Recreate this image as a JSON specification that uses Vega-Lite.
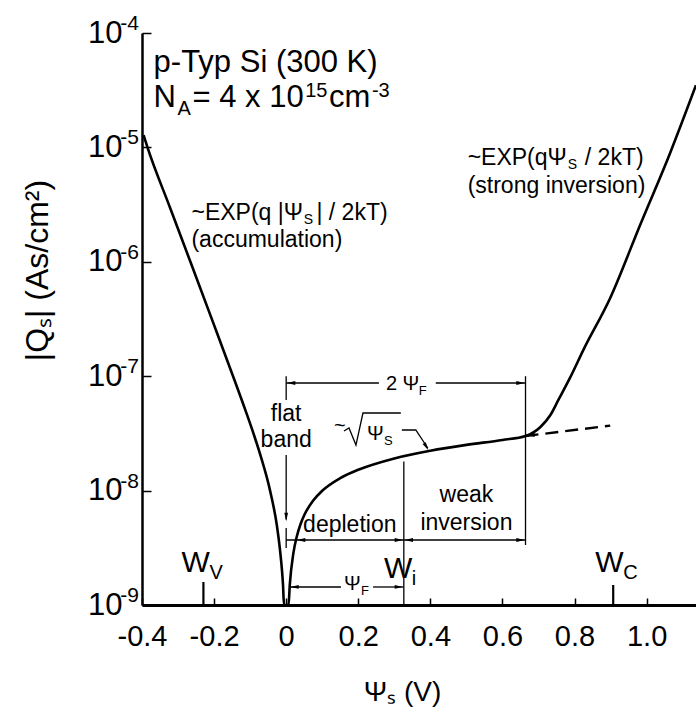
{
  "$schema": "https://vega.github.io/schema/vega-lite/v6.json",
  "width": 554,
  "height": 572,
  "autosize": {"type": "none"},
  "padding": {"left": 142, "top": 33, "right": 0, "bottom": 106},
  "background": "white",
  "config": {"view": {"stroke": null}, "font": "Liberation Sans", "axis": {"grid": false}},
  "datasets": {
    "curve": [
      {"x": -0.3956, "y": 1.28e-5}, {"x": -0.3848, "y": 1.0e-5}, {"x": -0.3227, "y": 3.0e-6},
      {"x": -0.2657, "y": 1.0e-6}, {"x": -0.2036, "y": 3.0e-7}, {"x": -0.1474, "y": 1.0e-7},
      {"x": -0.1127, "y": 5.0e-8}, {"x": -0.0884, "y": 3.0e-8}, {"x": -0.0707, "y": 2.0e-8},
      {"x": -0.0447, "y": 1.0e-8}, {"x": -0.026, "y": 5.0e-9}, {"x": -0.017, "y": 3.0e-9},
      {"x": -0.0116, "y": 2.0e-9}, {"x": -0.0088, "y": 1.5e-9}, {"x": -0.006, "y": 1.0e-9},
      {"x": 0.0065, "y": 1.0e-9}, {"x": 0.01, "y": 1.5e-9}, {"x": 0.02, "y": 2.84e-9},
      {"x": 0.03, "y": 4.03e-9}, {"x": 0.04, "y": 5.11e-9}, {"x": 0.05, "y": 6.09e-9},
      {"x": 0.075, "y": 8.2e-9}, {"x": 0.1, "y": 9.96e-9}, {"x": 0.15, "y": 1.285e-8},
      {"x": 0.2, "y": 1.52e-8}, {"x": 0.3, "y": 1.91e-8}, {"x": 0.4, "y": 2.23e-8},
      {"x": 0.5, "y": 2.51e-8}, {"x": 0.6, "y": 2.77e-8}, {"x": 0.664, "y": 3.0e-8},
      {"x": 0.7054, "y": 3.6e-8}, {"x": 0.7331, "y": 4.58e-8}, {"x": 0.7552, "y": 6.2e-8},
      {"x": 0.7884, "y": 9.8e-8}, {"x": 0.8243, "y": 1.69e-7}, {"x": 0.899, "y": 4.83e-7},
      {"x": 0.982, "y": 2.1e-6}, {"x": 1.065, "y": 8.9e-6}, {"x": 1.137, "y": 3.5e-5}
    ],
    "dashed": [
      {"x": 0.664, "y": 3.0e-8}, {"x": 0.899, "y": 3.7e-8}
    ],
    "exps": [
      {"y": 1e-9, "t": "-9"}, {"y": 1e-8, "t": "-8"}, {"y": 1e-7, "t": "-7"},
      {"y": 1e-6, "t": "-6"}, {"y": 1e-5, "t": "-5"}, {"y": 1e-4, "t": "-4"}
    ],
    "segs": [
      {"s": "a", "k": "thin", "o": 1, "x": 0, "y": 1.0e-7}, {"s": "a", "k": "thin", "o": 2, "x": 0, "y": 6.19e-8},
      {"s": "b", "k": "thin", "o": 1, "x": 0, "y": 8.72e-8}, {"s": "b", "k": "thin", "o": 2, "x": 0.2573, "y": 8.72e-8},
      {"s": "c", "k": "thin", "o": 1, "x": 0.415, "y": 8.72e-8}, {"s": "c", "k": "thin", "o": 2, "x": 0.664, "y": 8.72e-8},
      {"s": "d", "k": "thin", "o": 1, "x": 0.664, "y": 1.0e-7}, {"s": "d", "k": "thin", "o": 2, "x": 0.664, "y": 3.345e-9},
      {"s": "e", "k": "thin", "o": 1, "x": 0, "y": 2.047e-8}, {"s": "e", "k": "thin", "o": 2, "x": 0, "y": 5.6e-9},
      {"s": "f", "k": "thin", "o": 1, "x": 0, "y": 4.71e-9}, {"s": "f", "k": "thin", "o": 2, "x": 0, "y": 3.149e-9},
      {"s": "g", "k": "thin", "o": 1, "x": 0, "y": 3.7e-9}, {"s": "g", "k": "thin", "o": 2, "x": 0.664, "y": 3.7e-9},
      {"s": "h", "k": "thin", "o": 1, "x": 0.3264, "y": 1.8e-8}, {"s": "h", "k": "thin", "o": 2, "x": 0.3264, "y": 1.0e-9},
      {"s": "i", "k": "thin", "o": 1, "x": 0.008, "y": 1.437e-9}, {"s": "i", "k": "thin", "o": 2, "x": 0.152, "y": 1.437e-9},
      {"s": "j", "k": "thin", "o": 1, "x": 0.241, "y": 1.437e-9}, {"s": "j", "k": "thin", "o": 2, "x": 0.3264, "y": 1.437e-9},
      {"s": "k", "k": "thin", "o": 1, "x": 0.1604, "y": 3.319e-8}, {"s": "k", "k": "thin", "o": 2, "x": 0.1743, "y": 3.525e-8},
      {"s": "k", "k": "thin", "o": 3, "x": 0.1936, "y": 2.503e-8}, {"s": "k", "k": "thin", "o": 4, "x": 0.213, "y": 4.768e-8},
      {"s": "k", "k": "thin", "o": 5, "x": 0.3181, "y": 4.768e-8},
      {"s": "l", "k": "thin", "o": 1, "x": 0.3209, "y": 3.386e-8}, {"s": "l", "k": "thin", "o": 2, "x": 0.3596, "y": 3.386e-8},
      {"s": "l", "k": "thin", "o": 3, "x": 0.3928, "y": 2.357e-8},
      {"s": "m", "k": "thick", "o": 1, "x": -0.2296, "y": 1.0e-9}, {"s": "m", "k": "thick", "o": 2, "x": -0.2296, "y": 1.589e-9},
      {"s": "n", "k": "thick", "o": 1, "x": 0.9073, "y": 1.0e-9}, {"s": "n", "k": "thick", "o": 2, "x": 0.9073, "y": 1.496e-9}
    ],
    "arrows": [
      {"x": 0.0138, "y": 8.72e-8, "dir": "l"},
      {"x": 0.650, "y": 8.72e-8, "dir": "r"},
      {"x": 0, "y": 5.88e-9, "dir": "d"},
      {"x": 0.0415, "y": 3.7e-9, "dir": "l"},
      {"x": 0.3126, "y": 3.7e-9, "dir": "r"},
      {"x": 0.3402, "y": 3.7e-9, "dir": "l"},
      {"x": 0.650, "y": 3.7e-9, "dir": "r"},
      {"x": 0.0232, "y": 1.437e-9, "dir": "l"},
      {"x": 0.3126, "y": 1.437e-9, "dir": "r"},
      {"x": 0.3887, "y": 2.419e-8, "dir": "dr"},
      {"x": 0.6777, "y": 3.062e-8, "dir": "l"}
    ],
    "texts": [
      {"k": "big", "t": "p-Typ Si (300 K)", "x": -0.3679, "y": 4.561e-5},
      {"k": "big", "t": "N", "x": -0.3679, "y": 2.25e-5},
      {"k": "bigsub", "t": "A", "x": -0.3015, "y": 2.25e-5},
      {"k": "big", "t": "= 4 x 10", "x": -0.26, "y": 2.25e-5},
      {"k": "bigsup", "t": "15", "x": 0.0526, "y": 2.25e-5},
      {"k": "big", "t": "cm", "x": 0.119, "y": 2.25e-5},
      {"k": "bigsup", "t": "-3", "x": 0.2379, "y": 2.25e-5},
      {"k": "med", "t": "~EXP(q |Ψ", "x": -0.2628, "y": 2.32e-6},
      {"k": "medsub", "t": "S", "x": 0.049, "y": 2.32e-6},
      {"k": "med", "t": "| / 2kT)", "x": 0.084, "y": 2.32e-6},
      {"k": "med", "t": "(accumulation)", "x": -0.2628, "y": 1.347e-6},
      {"k": "med", "t": "~EXP(qΨ", "x": 0.5035, "y": 7.02e-6},
      {"k": "medsub", "t": "S", "x": 0.7815, "y": 7.02e-6},
      {"k": "med", "t": "/ 2kT)", "x": 0.8285, "y": 7.02e-6},
      {"k": "med", "t": "(strong inversion)", "x": 0.5035, "y": 3.993e-6},
      {"k": "med", "t": "depletion", "x": 0.047, "y": 4.346e-9},
      {"k": "medc", "t": "flat", "x": 0, "y": 4.058e-8},
      {"k": "medc", "t": "band", "x": 0, "y": 2.405e-8},
      {"k": "medc", "t": "weak", "x": 0.5, "y": 7.948e-9},
      {"k": "medc", "t": "inversion", "x": 0.5, "y": 4.524e-9},
      {"k": "w", "t": "W", "x": -0.2905, "y": 1.943e-9},
      {"k": "wsub", "t": "V", "x": -0.213, "y": 1.943e-9},
      {"k": "w", "t": "W", "x": 0.2711, "y": 1.722e-9},
      {"k": "wsub", "t": "i", "x": 0.3485, "y": 1.722e-9},
      {"k": "w", "t": "W", "x": 0.8575, "y": 1.943e-9},
      {"k": "wsub", "t": "C", "x": 0.935, "y": 1.943e-9},
      {"k": "small", "t": "2 Ψ", "x": 0.2766, "y": 7.574e-8},
      {"k": "smallsub", "t": "F", "x": 0.3679, "y": 7.574e-8},
      {"k": "small", "t": "Ψ", "x": 0.1604, "y": 1.352e-9},
      {"k": "smallsub", "t": "F", "x": 0.2075, "y": 1.352e-9},
      {"k": "small", "t": "~", "x": 0.1328, "y": 3.252e-8},
      {"k": "small", "t": "Ψ", "x": 0.2241, "y": 2.768e-8},
      {"k": "smallsub", "t": "S", "x": 0.2711, "y": 2.768e-8}
    ]
  },
  "layer": [
    {
      "data": {"name": "curve"},
      "mark": {"type": "line", "color": "black", "strokeWidth": 2.6, "interpolate": "monotone", "clip": true},
      "encoding": {
        "x": {
          "field": "x", "type": "quantitative",
          "scale": {"domain": [-0.4, 1.137], "nice": false, "zero": false},
          "axis": {
            "values": [-0.4, -0.2, 0, 0.2, 0.4, 0.6, 0.8, 1.0],
            "labelExpr": "datum.value == 0 ? '0' : (datum.value < 0 ? '-' + format(-datum.value, '.1f') : format(datum.value, '.1f'))",
            "labelFont": "Liberation Sans", "labelFontSize": 29, "labelColor": "black",
            "labelPadding": 24, "labelFlush": false, "labelOverlap": false,
            "tickSize": -7, "tickWidth": 1.5, "tickColor": "black",
            "domainColor": "black", "domainWidth": 3,
            "title": "Ψₛ (V)", "titleFont": "Liberation Sans", "titleFontSize": 28, "titleFontWeight": "normal",
            "titleColor": "black", "titleX": 260, "titleY": 95, "titleBaseline": "alphabetic", "titleAlign": "center"
          }
        },
        "y": {
          "field": "y", "type": "quantitative",
          "scale": {"type": "log", "domain": [1e-9, 1e-4], "nice": false},
          "axis": {
            "values": [1e-9, 1e-8, 1e-7, 1e-6, 1e-5, 1e-4],
            "labelExpr": "'10'",
            "labelFont": "Liberation Sans", "labelFontSize": 31, "labelColor": "black",
            "labelPadding": 29, "labelOverlap": false, "labelFlush": false,
            "tickSize": -9, "tickWidth": 1.5, "tickColor": "black",
            "domainColor": "black", "domainWidth": 2.5,
            "title": "|Qₛ| (As/cm²)", "titleFont": "Liberation Sans", "titleFontSize": 32, "titleFontWeight": "normal",
            "titleColor": "black", "titleAngle": 270, "titleX": -95, "titleY": 237, "titleBaseline": "alphabetic", "titleAlign": "center"
          }
        }
      }
    },
    {
      "data": {"name": "exps"},
      "mark": {"type": "text", "fontSize": 21, "align": "right", "baseline": "alphabetic", "dx": -3, "dy": -3, "font": "Liberation Sans", "color": "black"},
      "encoding": {
        "x": {"datum": -0.4, "type": "quantitative"},
        "y": {"field": "y", "type": "quantitative"},
        "text": {"field": "t"}
      }
    },
    {
      "data": {"name": "dashed"},
      "mark": {"type": "line", "color": "black", "strokeWidth": 2.4, "strokeDash": [13, 7]},
      "encoding": {"x": {"field": "x", "type": "quantitative"}, "y": {"field": "y", "type": "quantitative"}}
    },
    {
      "data": {"name": "segs"},
      "transform": [{"filter": "datum.k == 'thin'"}],
      "mark": {"type": "line", "color": "black", "strokeWidth": 1.3},
      "encoding": {
        "x": {"field": "x", "type": "quantitative"},
        "y": {"field": "y", "type": "quantitative"},
        "detail": {"field": "s"},
        "order": {"field": "o"}
      }
    },
    {
      "data": {"name": "segs"},
      "transform": [{"filter": "datum.k == 'thick'"}],
      "mark": {"type": "line", "color": "black", "strokeWidth": 2.2},
      "encoding": {
        "x": {"field": "x", "type": "quantitative"},
        "y": {"field": "y", "type": "quantitative"},
        "detail": {"field": "s"},
        "order": {"field": "o"}
      }
    },
    {
      "mark": {"type": "rule", "color": "black", "strokeWidth": 2.5},
      "encoding": {"y": {"datum": 0.0001, "type": "quantitative"}}
    },
    {
      "data": {"name": "arrows"},
      "mark": {"type": "point", "filled": true, "color": "black", "size": 70, "opacity": 1, "strokeWidth": 0},
      "encoding": {
        "x": {"field": "x", "type": "quantitative"},
        "y": {"field": "y", "type": "quantitative"},
        "shape": {
          "field": "dir", "type": "nominal", "legend": null,
          "scale": {
            "domain": ["l", "r", "d", "dr"],
            "range": ["M -1 0 L 1 -0.45 L 1 0.45 Z", "M 1 0 L -1 -0.45 L -1 0.45 Z", "M 0 1 L -0.45 -1 L 0.45 -1 Z", "M 0.5 0.87 L -0.89 -0.645 L -0.11 -1.095 Z"]
          }
        }
      }
    },
    {
      "data": {"name": "texts"},
      "transform": [{"filter": "datum.k == 'big'"}],
      "mark": {"type": "text", "fontSize": 31, "align": "left", "baseline": "alphabetic", "font": "Liberation Sans", "color": "black"},
      "encoding": {"x": {"field": "x", "type": "quantitative"}, "y": {"field": "y", "type": "quantitative"}, "text": {"field": "t"}}
    },
    {
      "data": {"name": "texts"},
      "transform": [{"filter": "datum.k == 'bigsub'"}],
      "mark": {"type": "text", "fontSize": 20, "align": "left", "baseline": "alphabetic", "dy": 8, "font": "Liberation Sans", "color": "black"},
      "encoding": {"x": {"field": "x", "type": "quantitative"}, "y": {"field": "y", "type": "quantitative"}, "text": {"field": "t"}}
    },
    {
      "data": {"name": "texts"},
      "transform": [{"filter": "datum.k == 'bigsup'"}],
      "mark": {"type": "text", "fontSize": 20, "align": "left", "baseline": "alphabetic", "dy": -10, "font": "Liberation Sans", "color": "black"},
      "encoding": {"x": {"field": "x", "type": "quantitative"}, "y": {"field": "y", "type": "quantitative"}, "text": {"field": "t"}}
    },
    {
      "data": {"name": "texts"},
      "transform": [{"filter": "datum.k == 'med'"}],
      "mark": {"type": "text", "fontSize": 23, "align": "left", "baseline": "alphabetic", "font": "Liberation Sans", "color": "black"},
      "encoding": {"x": {"field": "x", "type": "quantitative"}, "y": {"field": "y", "type": "quantitative"}, "text": {"field": "t"}}
    },
    {
      "data": {"name": "texts"},
      "transform": [{"filter": "datum.k == 'medc'"}],
      "mark": {"type": "text", "fontSize": 23, "align": "center", "baseline": "alphabetic", "font": "Liberation Sans", "color": "black"},
      "encoding": {"x": {"field": "x", "type": "quantitative"}, "y": {"field": "y", "type": "quantitative"}, "text": {"field": "t"}}
    },
    {
      "data": {"name": "texts"},
      "transform": [{"filter": "datum.k == 'medsub'"}],
      "mark": {"type": "text", "fontSize": 14, "align": "left", "baseline": "alphabetic", "dy": 4, "font": "Liberation Sans", "color": "black"},
      "encoding": {"x": {"field": "x", "type": "quantitative"}, "y": {"field": "y", "type": "quantitative"}, "text": {"field": "t"}}
    },
    {
      "data": {"name": "texts"},
      "transform": [{"filter": "datum.k == 'w'"}],
      "mark": {"type": "text", "fontSize": 30, "align": "left", "baseline": "alphabetic", "font": "Liberation Sans", "color": "black"},
      "encoding": {"x": {"field": "x", "type": "quantitative"}, "y": {"field": "y", "type": "quantitative"}, "text": {"field": "t"}}
    },
    {
      "data": {"name": "texts"},
      "transform": [{"filter": "datum.k == 'wsub'"}],
      "mark": {"type": "text", "fontSize": 20, "align": "left", "baseline": "alphabetic", "dy": 7, "font": "Liberation Sans", "color": "black"},
      "encoding": {"x": {"field": "x", "type": "quantitative"}, "y": {"field": "y", "type": "quantitative"}, "text": {"field": "t"}}
    },
    {
      "data": {"name": "texts"},
      "transform": [{"filter": "datum.k == 'small'"}],
      "mark": {"type": "text", "fontSize": 20, "align": "left", "baseline": "alphabetic", "font": "Liberation Sans", "color": "black"},
      "encoding": {"x": {"field": "x", "type": "quantitative"}, "y": {"field": "y", "type": "quantitative"}, "text": {"field": "t"}}
    },
    {
      "data": {"name": "texts"},
      "transform": [{"filter": "datum.k == 'smallsub'"}],
      "mark": {"type": "text", "fontSize": 13, "align": "left", "baseline": "alphabetic", "dy": 5, "font": "Liberation Sans", "color": "black"},
      "encoding": {"x": {"field": "x", "type": "quantitative"}, "y": {"field": "y", "type": "quantitative"}, "text": {"field": "t"}}
    }
  ]
}
